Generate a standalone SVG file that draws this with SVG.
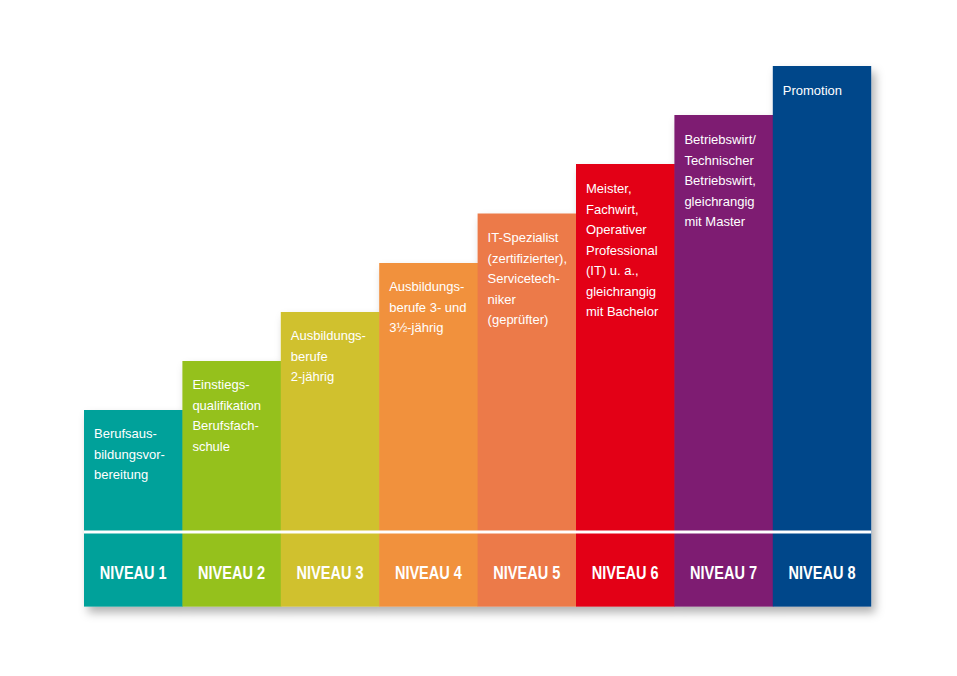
<svg xmlns="http://www.w3.org/2000/svg" width="957" height="676" viewBox="0 0 957 676">
<defs>
<filter id="sh" x="-10%" y="-10%" width="125%" height="130%">
<feDropShadow dx="4" dy="6" stdDeviation="5" flood-color="#000" flood-opacity="0.3"/>
</filter>
<style>
.t{font-family:"Liberation Sans",Arial,sans-serif;font-size:13px;fill:#fff}
.n{font-family:"Liberation Sans",Arial,sans-serif;font-size:17.5px;font-weight:bold;fill:#fff;text-anchor:middle}
</style>
</defs>
<rect width="957" height="676" fill="#fff"/>
<g filter="url(#sh)">
<g id="niveau1"><rect x="84" y="410" width="98.9" height="196.6" fill="#00A19A"/></g>
<g id="niveau2"><rect x="182.4" y="361" width="98.9" height="245.6" fill="#95C11F"/></g>
<g id="niveau3"><rect x="280.8" y="312" width="98.9" height="294.6" fill="#D0C12E"/></g>
<g id="niveau4"><rect x="379.2" y="263" width="98.9" height="343.6" fill="#F1913D"/></g>
<g id="niveau5"><rect x="477.6" y="213.5" width="98.9" height="393.1" fill="#EC7A48"/></g>
<g id="niveau6"><rect x="576" y="164" width="98.9" height="442.6" fill="#E30613"/></g>
<g id="niveau7"><rect x="674.4" y="115" width="98.9" height="491.6" fill="#7E1C72"/></g>
<g id="niveau8"><rect x="772.8" y="66" width="98.4" height="540.6" fill="#00468A"/></g>
</g>
<rect x="84" y="530.5" width="787.2" height="3" fill="#fff"/>
<g id="labels">
<text class="t" x="94" y="438"><tspan x="94">Berufsaus-</tspan><tspan x="94" dy="20.5">bildungsvor-</tspan><tspan x="94" dy="20.5">bereitung</tspan></text>
<text class="t" x="192.4" y="389"><tspan x="192.4">Einstiegs-</tspan><tspan x="192.4" dy="20.5">qualifikation</tspan><tspan x="192.4" dy="20.5">Berufsfach-</tspan><tspan x="192.4" dy="20.5">schule</tspan></text>
<text class="t" x="290.8" y="340"><tspan x="290.8">Ausbildungs-</tspan><tspan x="290.8" dy="20.5">berufe</tspan><tspan x="290.8" dy="20.5">2-jährig</tspan></text>
<text class="t" x="389.2" y="291"><tspan x="389.2">Ausbildungs-</tspan><tspan x="389.2" dy="20.5">berufe 3- und</tspan><tspan x="389.2" dy="20.5">3½-jährig</tspan></text>
<text class="t" x="487.6" y="242"><tspan x="487.6">IT-Spezialist</tspan><tspan x="487.6" dy="20.5">(zertifizierter),</tspan><tspan x="487.6" dy="20.5">Servicetech-</tspan><tspan x="487.6" dy="20.5">niker</tspan><tspan x="487.6" dy="20.5">(geprüfter)</tspan></text>
<text class="t" x="586" y="193"><tspan x="586">Meister,</tspan><tspan x="586" dy="20.5">Fachwirt,</tspan><tspan x="586" dy="20.5">Operativer</tspan><tspan x="586" dy="20.5">Professional</tspan><tspan x="586" dy="20.5">(IT) u. a.,</tspan><tspan x="586" dy="20.5">gleichrangig</tspan><tspan x="586" dy="20.5">mit Bachelor</tspan></text>
<text class="t" x="684.4" y="144"><tspan x="684.4">Betriebswirt/</tspan><tspan x="684.4" dy="20.5">Technischer</tspan><tspan x="684.4" dy="20.5">Betriebswirt,</tspan><tspan x="684.4" dy="20.5">gleichrangig</tspan><tspan x="684.4" dy="20.5">mit Master</tspan></text>
<text class="t" x="782.8" y="94.5">Promotion</text>
<text class="n" x="133.2" y="578.5" textLength="67" lengthAdjust="spacingAndGlyphs">NIVEAU 1</text>
<text class="n" x="231.6" y="578.5" textLength="67" lengthAdjust="spacingAndGlyphs">NIVEAU 2</text>
<text class="n" x="330" y="578.5" textLength="67" lengthAdjust="spacingAndGlyphs">NIVEAU 3</text>
<text class="n" x="428.4" y="578.5" textLength="67" lengthAdjust="spacingAndGlyphs">NIVEAU 4</text>
<text class="n" x="526.8" y="578.5" textLength="67" lengthAdjust="spacingAndGlyphs">NIVEAU 5</text>
<text class="n" x="625.2" y="578.5" textLength="67" lengthAdjust="spacingAndGlyphs">NIVEAU 6</text>
<text class="n" x="723.6" y="578.5" textLength="67" lengthAdjust="spacingAndGlyphs">NIVEAU 7</text>
<text class="n" x="822" y="578.5" textLength="67" lengthAdjust="spacingAndGlyphs">NIVEAU 8</text>
</g>
</svg>
